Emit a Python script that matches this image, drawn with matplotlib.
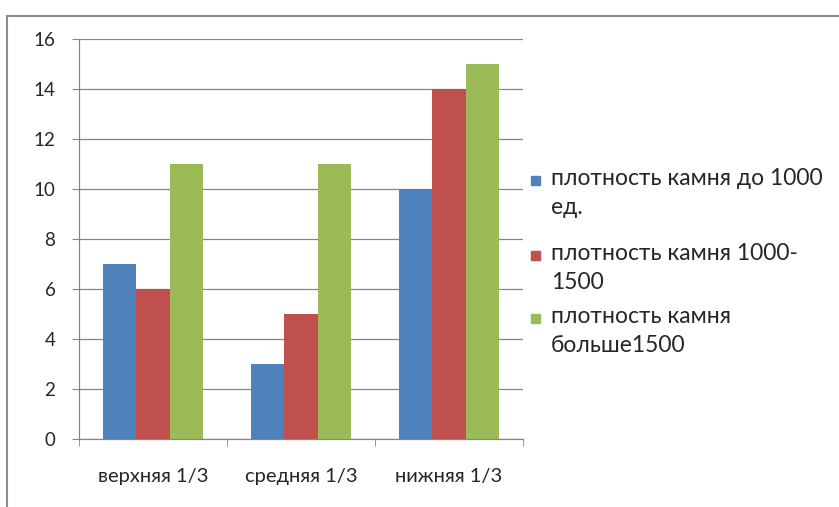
import numpy as np
import matplotlib.pyplot as plt
from matplotlib.lines import Line2D
from matplotlib.patches import Rectangle

plt.rcParams['font.family'] = ['Lato', 'DejaVu Sans']

categories = ["верхняя 1/3", "средняя 1/3", "нижняя 1/3"]
series_names = ["плотность камня до 1000\nед.",
                "плотность камня 1000-\n1500",
                "плотность камня\nбольше1500"]
values = [
    [7, 3, 10],
    [6, 5, 14],
    [11, 11, 15],
]
colors = ["#4F81BD", "#C0504D", "#9BBB59"]
grid_color = "#868686"
text_color = "#262626"

fig = plt.figure(figsize=(8.39, 5.07), dpi=100)
ax = fig.add_axes([0.0942, 0.1341, 0.5292, 0.7889])

x = np.arange(len(categories))
w = 0.225
for i, (vals, c) in enumerate(zip(values, colors)):
    ax.bar(x + (i - 1) * w, vals, width=w, color=c, zorder=3)

ax.set_xlim(-0.5, len(categories) - 0.5)
ax.set_ylim(0, 16)
ax.set_yticks(range(0, 17, 2))
ax.set_xticks(x)
ax.set_xticklabels(categories, fontsize=14.5, color=text_color)
ax.set_xticks(np.arange(-0.5, len(categories)), minor=True)
ax.tick_params(axis='x', which='major', length=0, pad=21)
ax.tick_params(axis='x', which='minor', length=5, color=grid_color)
ax.tick_params(axis='y', length=5, color=grid_color, pad=12, labelsize=13.5, labelcolor=text_color)
ax.yaxis.grid(True, color=grid_color, linewidth=0.9, zorder=0)
for s in ["top", "right"]:
    ax.spines[s].set_visible(False)
for s in ["left", "bottom"]:
    ax.spines[s].set_color(grid_color)
    ax.spines[s].set_linewidth(0.9)

# legend drawn by hand so the marker sits on the first line of each label
W, H = 839, 507
legend_y = [180, 255, 318]
for yy, name, c in zip(legend_y, series_names, colors):
    fig.add_artist(Rectangle((531 / W, 1 - (yy + 4.5) / H), 9 / W, 9 / H,
                             transform=fig.transFigure, color=c))
    fig.text(551 / W, 1 - (yy - 12) / H, name, fontsize=16.5, va="top", ha="left",
             color=text_color, linespacing=1.45)

# chart frame
fig.add_artist(Line2D([7 / W, 7 / W], [0, 1 - 16 / H], color="#8c8c8c", lw=1.5))
fig.add_artist(Line2D([7 / W, 1], [1 - 16 / H, 1 - 16 / H], color="#8c8c8c", lw=1.5))

fig.savefig("out.png", dpi=100)
